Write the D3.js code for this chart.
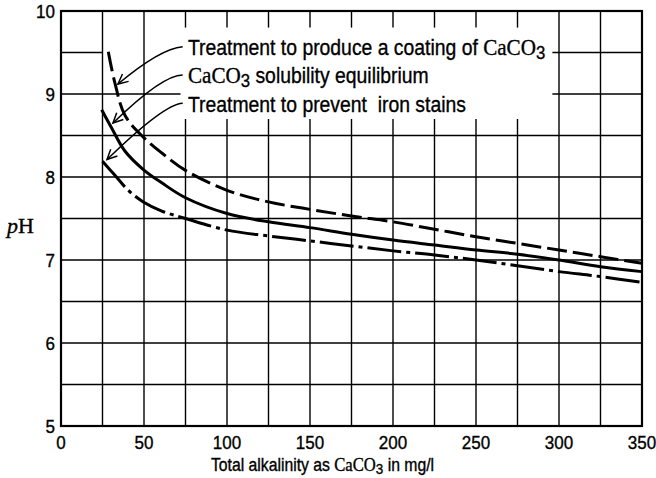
<!DOCTYPE html>
<html><head><meta charset="utf-8">
<script src="https://cdn.jsdelivr.net/npm/d3@7"></script>
<style>
html,body{margin:0;padding:0;background:#fff;}
svg{display:block;}
svg text{stroke:#000;stroke-width:0.35px;}
</style></head><body>
<svg id="chart" width="656" height="478"></svg>
<script>
// ---- data ----
const xTicks = [0, 50, 100, 150, 200, 250, 300, 350];
const yTicks = [5, 6, 7, 8, 9, 10];

const coatingX = [28.5, 32.5, 38.6, 49.6, 60.7, 75, 100, 125, 150, 175, 200, 225, 250, 275, 300, 325, 350];
const coatingY = [9.51, 9.13, 8.74, 8.48, 8.29, 8.08, 7.84, 7.70, 7.61, 7.53, 7.46, 7.37, 7.28, 7.20, 7.12, 7.04, 6.96];

const equilX = [24.5, 30.5, 38.6, 49.6, 60.7, 75, 100, 125, 150, 175, 200, 225, 250, 275, 300, 325, 350];
const equilY = [8.81, 8.59, 8.31, 8.09, 7.93, 7.75, 7.56, 7.46, 7.39, 7.31, 7.24, 7.18, 7.12, 7.07, 7.00, 6.92, 6.86];

const ironX = [25, 32.5, 40.5, 49.6, 60.7, 75, 100, 125, 150, 175, 200, 225, 250, 275, 300, 325, 350];
const ironY = [8.19, 8.02, 7.84, 7.70, 7.59, 7.50, 7.36, 7.29, 7.23, 7.17, 7.11, 7.06, 7.00, 6.93, 6.86, 6.80, 6.73];

const labelNames = ["Treatment to produce a coating of ", " solubility equilibrium", "Treatment to prevent  iron stains"];

// ---- layout ----
const svg = d3.select("#chart");
const mLeft = 61, mRight = 642, mTop = 11, mBottom = 426;
const x = d3.scaleLinear().domain([0, 350]).range([mLeft, mRight]);
const y = d3.scaleLinear().domain([5, 10]).range([mBottom, mTop]);

const sans = "'Liberation Sans',Arial,sans-serif";
const serif = "'Liberation Serif','Times New Roman',serif";

// ---- grid (with blank area behind labels) ----
const g = svg.append("g").attr("stroke", "#000").attr("stroke-width", 1.4).attr("fill", "none");
const hSegs = [];
d3.range(5.5, 10, 0.5).forEach(v => {
  if (Math.abs(v - 9.5) < 1e-6) { hSegs.push([v, 0, 25]); hSegs.push([v, 296, 350]); }
  else if (Math.abs(v - 9) < 1e-6) { hSegs.push([v, 0, 72]); hSegs.push([v, 296, 350]); }
  else hSegs.push([v, 0, 350]);
});
hSegs.forEach(s => g.append("line").attr("x1", x(s[1])).attr("x2", x(s[2])).attr("y1", y(s[0])).attr("y2", y(s[0])));
const vSegs = [];
d3.range(25, 350, 25).forEach(v => {
  if (v > 66 && v < 296) { vSegs.push([v, 5, 8.7]); vSegs.push([v, 9.8, 10]); }
  else vSegs.push([v, 5, 10]);
});
vSegs.forEach(s => g.append("line").attr("x1", x(s[0])).attr("x2", x(s[0])).attr("y1", y(s[1])).attr("y2", y(s[2])));

// frame
svg.append("rect").attr("x", mLeft).attr("y", mTop).attr("width", mRight - mLeft).attr("height", mBottom - mTop)
  .attr("fill", "none").attr("stroke", "#000").attr("stroke-width", 2.2);

// ---- tick labels ----
svg.append("g").selectAll("text").data(yTicks).join("text")
  .attr("transform", d => `translate(55,${y(d)}) scale(0.92,1)`).attr("dy", "0.36em").attr("text-anchor", "end")
  .attr("font-family", sans).attr("font-size", 18.5).text(d => d);
svg.append("g").selectAll("text").data(xTicks).join("text")
  .attr("transform", d => `translate(${x(d)},449) scale(0.92,1)`).attr("text-anchor", "middle")
  .attr("font-family", sans).attr("font-size", 18.5).text(d => d);

// axis titles
const xt = svg.append("text").attr("transform", "translate(211,471) scale(0.9,1)")
  .attr("font-family", sans).attr("font-size", 17.5);
xt.append("tspan").text("Total alkalinity as ");
xt.append("tspan").attr("font-family", serif).attr("font-size", 18.5).text("CaCO");
xt.append("tspan").attr("dy", 3).attr("font-size", 15).text("3");
xt.append("tspan").attr("dy", -3).text(" in mg/l");

const yt = svg.append("text").attr("x", 7).attr("y", 233).attr("font-family", serif).attr("font-size", 22);
yt.append("tspan").attr("font-style", "italic").text("p");
yt.append("tspan").text("H");

// ---- curves ----
const line = d3.line().x(d => x(d[0])).y(d => y(d[1])).curve(d3.curveCatmullRom.alpha(0.5));
const series = [
  {xs: coatingX, ys: coatingY, dash: "20,6"},
  {xs: equilX, ys: equilY, dash: null},
  {xs: ironX, ys: ironY, dash: "34,5,4,5"}
];
series.forEach(s => {
  svg.append("path").datum(s.xs.map((v, i) => [v, s.ys[i]]))
    .attr("d", line).attr("fill", "none").attr("stroke", "#000").attr("stroke-width", 3)
    .attr("stroke-dasharray", s.dash);
});

// ---- annotations ----
const arrows = [
  {start: [73.3, 9.57], ctrl: [60, 9.55], tip: [34.3, 9.12], ty: 9.47},
  {start: [73.3, 9.23], ctrl: [61, 9.23], tip: [31.3, 8.65], ty: 9.13},
  {start: [73.3, 8.89], ctrl: [62, 8.88], tip: [27.7, 8.21], ty: 8.78}
];
arrows.forEach(a => {
  const [sx, sy] = [x(a.start[0]), y(a.start[1])];
  const [cx, cy] = [x(a.ctrl[0]), y(a.ctrl[1])];
  const [tx, ty] = [x(a.tip[0]), y(a.tip[1])];
  svg.append("path").attr("d", `M${sx},${sy}Q${cx},${cy} ${tx},${ty}`)
    .attr("fill", "none").attr("stroke", "#000").attr("stroke-width", 1.5);
  const ang = Math.atan2(ty - cy, tx - cx);
  const L = 11, spread = 0.45;
  const p1 = [tx - L * Math.cos(ang - spread), ty - L * Math.sin(ang - spread)];
  const p2 = [tx - L * Math.cos(ang + spread), ty - L * Math.sin(ang + spread)];
  svg.append("path").attr("d", `M${p1[0]},${p1[1]}L${tx},${ty}L${p2[0]},${p2[1]}`)
    .attr("fill", "none").attr("stroke", "#000").attr("stroke-width", 1.5);
});

const lx = x(76.5);
const fs = 22, sx = 0.88;
const lab = (d) => svg.append("text").attr("transform", `translate(${lx},${y(d)}) scale(${sx},1)`)
  .attr("font-family", sans).attr("font-size", fs);
const t1 = lab(arrows[0].ty);
t1.append("tspan").text(labelNames[0]);
t1.append("tspan").attr("font-family", serif).attr("font-size", 24).text("CaCO");
t1.append("tspan").attr("dy", 4).attr("font-size", 19).text("3");

const t2 = lab(arrows[1].ty);
t2.append("tspan").attr("font-family", serif).attr("font-size", 24).text("CaCO");
t2.append("tspan").attr("dy", 4).attr("font-size", 19).text("3");
t2.append("tspan").attr("dy", -4).text(labelNames[1]);

lab(arrows[2].ty).style("white-space", "pre").text(labelNames[2]);
</script>
</body></html>
